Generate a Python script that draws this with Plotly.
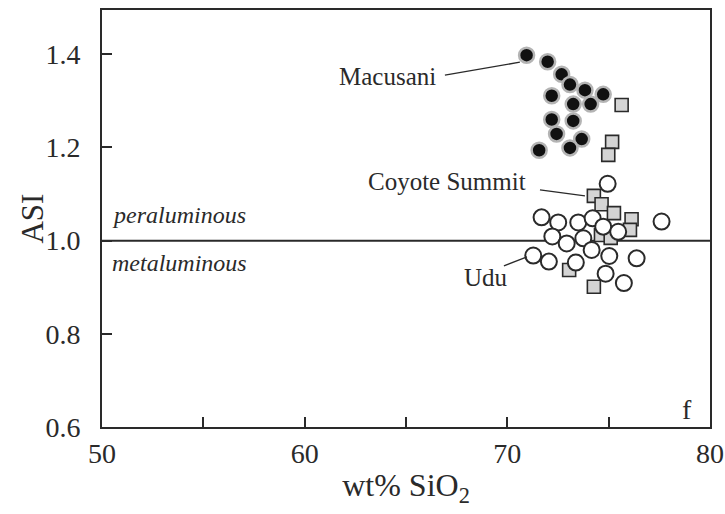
import plotly.graph_objects as go

# SiO2 (wt%) and aluminium saturation index (ASI) per sample
macusani_sio2 = [70.95, 71.99, 72.68, 73.09, 73.83, 74.73, 72.19, 73.25, 74.11,
                 72.19, 73.25, 72.43, 73.67, 73.09, 71.57]
macusani_asi = [1.398, 1.384, 1.357, 1.335, 1.323, 1.314, 1.311, 1.293, 1.293,
                1.260, 1.257, 1.229, 1.218, 1.199, 1.194]

coyote_sio2 = [75.64, 75.17, 74.98, 74.27, 74.65, 75.26, 76.13, 76.05, 74.62,
               75.10, 73.05, 74.27]
coyote_asi = [1.291, 1.212, 1.184, 1.096, 1.078, 1.059, 1.046, 1.023, 1.012,
              1.006, 0.937, 0.901]

udu_sio2 = [74.95, 71.69, 72.51, 73.50, 74.21, 74.73, 75.47, 72.22, 72.93, 73.75,
            74.16, 77.61, 71.28, 72.05, 73.38, 75.03, 76.38, 74.85, 75.75]
udu_asi = [1.122, 1.050, 1.039, 1.039, 1.048, 1.030, 1.019, 1.009, 0.994, 1.005,
           0.980, 1.041, 0.968, 0.955, 0.953, 0.967, 0.962, 0.929, 0.909]

x_ticks = [50, 60, 70, 80]
x_tick_text = ["50", "60", "70", "80"]
x_minor_ticks = [55, 65, 75]
y_ticks = [0.6, 0.8, 1.0, 1.2, 1.4]
y_tick_text = ["0.6", "0.8", "1.0", "1.2", "1.4"]

SERIF = "Liberation Serif, Times New Roman, serif"
INK = "#2a2a2a"

fig = go.Figure()

# metaluminous / peraluminous boundary
fig.add_shape(type="line", xref="paper", yref="y", x0=0, x1=1, y0=1.0, y1=1.0,
              line=dict(color=INK, width=2), layer="below")

fig.add_trace(go.Scatter(
    x=coyote_sio2, y=coyote_asi, mode="markers", name="Coyote Summit",
    marker=dict(symbol="square", size=13, color="#d4d4d4",
                line=dict(color=INK, width=1.6))))
fig.add_trace(go.Scatter(
    x=udu_sio2, y=udu_asi, mode="markers", name="Udu",
    marker=dict(symbol="circle", size=16, color="white",
                line=dict(color=INK, width=2))))
fig.add_trace(go.Scatter(
    x=macusani_sio2, y=macusani_asi, mode="markers", name="Macusani",
    marker=dict(symbol="circle", size=15, color="#111111",
                line=dict(color="#b4b4b4", width=2.5))))

# labels with leader lines
leaders = [
    (66.92, 1.355, 70.62, 1.383),
    (71.61, 1.109, 73.83, 1.096),
    (69.83, 0.946, 70.97, 0.965),
]
for x0, y0, x1, y1 in leaders:
    fig.add_shape(type="line", x0=x0, y0=y0, x1=x1, y1=y1,
                  line=dict(color=INK, width=1.3))

labels = [
    ("Macusani", 66.6, 1.353),
    ("Coyote Summit", 71.02, 1.126),
    ("Udu", 70.13, 0.920),
]
for text, x, y in labels:
    fig.add_annotation(x=x, y=y, text=text, showarrow=False, xanchor="right",
                       yanchor="middle", font=dict(family=SERIF, size=25, color=INK))

fig.add_annotation(x=50.39, y=1.055, text="<i>peraluminous</i>", showarrow=False,
                   xanchor="left", yanchor="middle",
                   font=dict(family=SERIF, size=24, color=INK))
fig.add_annotation(x=50.39, y=0.952, text="<i>metaluminous</i>", showarrow=False,
                   xanchor="left", yanchor="middle",
                   font=dict(family=SERIF, size=24, color=INK))
fig.add_annotation(x=78.86, y=0.637, text="f", showarrow=False,
                   xanchor="center", yanchor="middle",
                   font=dict(family=SERIF, size=28, color=INK))

# vertical axis title
fig.add_annotation(xref="paper", yref="paper", x=-0.115, y=0.5, text="ASI",
                   textangle=-90, showarrow=False, xanchor="center", yanchor="middle",
                   font=dict(family=SERIF, size=31, color=INK))

fig.update_xaxes(
    range=[50, 80], tickvals=x_ticks, ticktext=x_tick_text,
    ticks="inside", ticklen=10, tickwidth=2, tickcolor=INK,
    minor=dict(tickvals=x_minor_ticks, ticks="inside", ticklen=10, tickwidth=2,
               tickcolor=INK, showgrid=False),
    showline=True, linecolor=INK, linewidth=2, mirror=True,
    showgrid=False, zeroline=False, automargin=False,
    tickfont=dict(family=SERIF, size=28, color=INK),
    title=dict(text="wt% SiO<sub>2</sub>", font=dict(family=SERIF, size=32, color=INK),
               standoff=6),
)
fig.update_yaxes(
    range=[0.6, 1.495], tickvals=y_ticks, ticktext=y_tick_text,
    ticks="inside", ticklen=10, tickwidth=2, tickcolor=INK,
    showline=True, linecolor=INK, linewidth=2, mirror=True,
    showgrid=False, zeroline=False, automargin=False, ticklabelstandoff=14,
    tickfont=dict(family=SERIF, size=28, color=INK),
)

fig.update_layout(
    width=725, height=514,
    margin=dict(l=102, r=15, t=10, b=87),
    paper_bgcolor="white", plot_bgcolor="white",
    showlegend=False,
)

fig.write_html("out.html")
